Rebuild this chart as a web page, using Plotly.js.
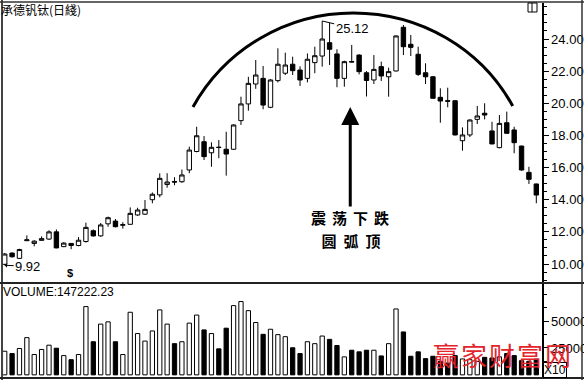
<!DOCTYPE html>
<html>
<head>
<meta charset="utf-8">
<script src="https://cdn.plot.ly/plotly-3.0.1.min.js"></script>
<style>
  html, body { margin: 0; padding: 0; background: #fff; }
  #chart { width: 584px; height: 380px; }
  g.annotation[data-index="4"] text { letter-spacing: 6px; }
  g.annotation[data-index="5"] text { letter-spacing: 7px; }
  g.annotation[data-index="8"] text { letter-spacing: 2px; }
</style>
</head>
<body>
<div id="chart"></div>
<script>
// Daily bars, 承德钒钛
const openP = [9.98,10.68,10.35,11.45,11.28,11.47,11.55,12.00,11.08,11.28,
  11.15,11.40,12.07,11.75,12.50,12.67,12.41,12.47,13.05,13.10,
  14.00,14.30,14.95,15.13,15.12,15.85,17.00,17.61,16.92,17.27,
  17.14,17.14,18.92,19.96,21.20,21.55,19.75,21.41,21.87,22.43,
  22.07,21.55,22.53,22.94,23.77,23.07,21.55,22.60,23.00,21.90,
  21.45,22.28,21.65,22.01,24.73,23.67,23.05,21.90,21.65,20.37,
  20.16,20.16,17.67,18.03,19.00,19.38,18.28,17.24,18.79,18.34,
  17.34,15.70,14.98];
const highP = [10.68,10.72,10.95,11.78,11.48,11.72,12.10,12.15,11.36,11.30,
  11.68,12.57,12.15,12.55,12.95,12.80,12.60,13.52,13.50,13.98,
  14.45,15.64,15.65,15.40,15.88,17.30,18.54,17.96,17.57,17.71,
  18.23,18.70,20.41,21.65,22.69,22.32,21.50,23.42,23.15,22.90,
  22.30,23.10,23.52,25.12,25.00,23.36,22.65,23.63,23.05,22.00,
  23.00,22.59,22.22,24.22,24.87,24.25,23.52,22.49,21.70,20.93,
  20.97,20.18,18.50,19.00,19.83,20.00,18.85,19.27,19.48,18.54,
  17.36,16.05,15.00];
const lowP = [9.92,10.40,10.33,11.44,11.10,11.46,11.50,10.98,11.05,10.92,
  11.10,11.33,11.70,11.70,12.32,12.28,12.20,12.45,13.00,13.05,
  13.78,14.15,14.75,14.90,15.05,15.65,16.95,16.47,16.05,16.58,
  15.50,17.10,18.65,19.54,20.90,19.63,19.70,21.30,21.76,21.76,
  21.08,21.30,21.87,22.28,22.38,21.00,21.03,22.55,21.80,20.42,
  21.20,21.39,20.41,21.98,23.00,22.94,21.70,21.20,20.28,18.79,
  19.75,18.00,17.05,17.90,18.71,19.00,17.45,17.20,18.10,16.89,
  15.80,14.98,13.78];
const closeP = [10.62,10.45,10.90,11.50,11.42,11.58,12.00,11.00,11.30,11.15,
  11.48,12.28,11.75,12.43,12.88,12.32,12.45,13.15,13.36,13.40,
  14.34,15.33,15.10,15.10,15.54,17.09,17.98,16.68,17.26,17.25,
  16.84,18.65,19.96,21.24,21.76,19.89,21.45,22.43,22.38,22.03,
  21.45,22.74,22.96,24.00,23.36,21.55,22.59,22.57,21.97,21.42,
  22.11,21.70,21.97,24.19,23.52,23.48,21.80,21.65,20.31,20.14,
  20.13,18.03,18.03,18.96,19.21,19.27,17.47,18.75,18.13,17.55,
  15.85,15.27,14.29];
// volume in units of 10 shares
const volume = [21970,19800,24500,34600,18900,23600,27600,24800,17900,14100,
  18900,63500,30800,47200,49300,30800,18900,58200,38400,31400,
  40800,60400,47200,29000,30800,48100,55600,41800,38400,24200,
  43400,64400,68200,59700,48700,37700,42400,37400,35500,25200,
  19800,30800,29000,36100,33000,27300,16700,22900,21400,22900,
  22900,17600,29000,61300,39900,17300,21400,15100,17300,12600,
  11000,17900,14800,14100,12600,16300,15700,16700,19800,17900,
  13200,12600,14722.223];

const priceTicks = [10, 12, 14, 16, 18, 20, 22, 24];
const volumeTicks = [25000, 50000];
const volumeScale = 10;

const day = closeP.map((_, i) => i);
const volFill = closeP.map((c, i) => (c >= openP[i] ? '#ffffff' : '#000000'));

// extremes shown on the chart
const hiIdx = highP.indexOf(Math.max(...highP));
const loIdx = lowP.indexOf(Math.min(...lowP));
const lastVol = volume[volume.length - 1];

// page geometry helpers (plot area spans x 3..542, y 3..377)
const W = 584, H = 380, ML = 3, MR = 42, MT = 3, MB = 3;
const PW = W - ML - MR, PH = H - MT - MB;
const px = v => (v - ML) / PW;
const py = v => (H - MB - v) / PH;

// hand-drawn rounding-top arc (day, price), two cubic segments
const arcPts = [[25.5, 19.77], [29.9, 23.38], [38.2, 25.62], [47.2, 25.62],
                [56.2, 25.62], [64.5, 23.44], [68.8, 19.83]];
const arcPath = 'M' + arcPts[0].join(',') +
  ' C' + arcPts[1].join(',') + ' ' + arcPts[2].join(',') + ' ' + arcPts[3].join(',') +
  ' C' + arcPts[4].join(',') + ' ' + arcPts[5].join(',') + ' ' + arcPts[6].join(',');

const latin = 'Liberation Sans, Arial, sans-serif';
const cjk = 'Noto Sans CJK SC, sans-serif';

const traces = [
  {
    type: 'candlestick', x: day, open: openP, high: highP, low: lowP, close: closeP,
    xaxis: 'x', yaxis: 'y', whiskerwidth: 0, hoverinfo: 'skip',
    increasing: { line: { color: '#000', width: 1 }, fillcolor: '#ffffff' },
    decreasing: { line: { color: '#000', width: 1 }, fillcolor: '#000000' }
  },
  {
    type: 'bar', x: day, y: volume, xaxis: 'x2', yaxis: 'y2', width: 0.58,
    marker: { color: volFill, line: { color: '#000', width: 1 } }, hoverinfo: 'skip'
  }
];

const axisX = { range: [-0.23, 72.77], showgrid: false, zeroline: false, showline: false,
  showticklabels: false, ticks: '', fixedrange: true, rangeslider: { visible: false } };

const layout = {
  width: W, height: H, margin: { l: ML, r: MR, t: MT, b: MB },
  paper_bgcolor: '#fff', plot_bgcolor: '#fff', showlegend: false,
  boxgap: 0.15,
  xaxis: Object.assign({ anchor: 'y', domain: [0, 1] }, axisX),
  xaxis2: Object.assign({ anchor: 'y2', domain: [0, 1] }, axisX),
  yaxis: {
    domain: [py(282), 1], range: [8.88, 26.24], side: 'right', anchor: 'x',
    showline: true, linecolor: '#000', linewidth: 1.5, showgrid: false, zeroline: false,
    tickmode: 'array', tickvals: priceTicks, ticktext: priceTicks.map(v => v.toFixed(2)),
    ticks: 'outside', ticklen: 5, tickwidth: 1, tickcolor: '#000',
    minor: { tickmode: 'linear', tick0: 0, dtick: 0.5, ticks: 'outside', ticklen: 3, tickcolor: '#000' },
    tickfont: { family: latin, size: 13, color: '#000' }
  },
  yaxis2: {
    domain: [0, py(284)], range: [-2000, 84500], side: 'right', anchor: 'x2',
    showline: true, linecolor: '#000', linewidth: 1.5, showgrid: false, zeroline: false,
    tickmode: 'array', tickvals: volumeTicks, ticktext: volumeTicks.map(String),
    ticks: 'outside', ticklen: 5, tickwidth: 1, tickcolor: '#000',
    minor: { tickmode: 'linear', tick0: 0, dtick: 12500, ticks: 'outside', ticklen: 3, tickcolor: '#000' },
    tickfont: { family: latin, size: 13, color: '#000' }
  },
  shapes: [
    { type: 'path', xref: 'x', yref: 'y', path: arcPath, line: { color: '#000', width: 3 } },
    // frame
    { type: 'line', xref: 'paper', yref: 'paper', x0: px(2), x1: px(2), y0: py(0), y1: py(380), line: { color: '#444', width: 2 } },
    { type: 'line', xref: 'paper', yref: 'paper', x0: px(0), x1: px(584), y0: py(2), y1: py(2), line: { color: '#333', width: 1.5 } },
    { type: 'line', xref: 'paper', yref: 'paper', x0: px(0), x1: px(584), y0: py(283), y1: py(283), line: { color: '#222', width: 2 } },
    { type: 'line', xref: 'paper', yref: 'paper', x0: px(0), x1: px(584), y0: py(378), y1: py(378), line: { color: '#222', width: 2 } },
    { type: 'line', xref: 'paper', yref: 'paper', x0: px(582), x1: px(582), y0: py(0), y1: py(380), line: { color: '#333', width: 1.5 } },
    // window toggle icon
    { type: 'rect', xref: 'paper', yref: 'paper', x0: px(528), x1: px(537), y0: py(12), y1: py(3), line: { color: '#000', width: 1 } },
    { type: 'line', xref: 'paper', yref: 'paper', x0: px(532), x1: px(532), y0: py(12), y1: py(3), line: { color: '#000', width: 1 } }
  ],
  annotations: [
    // 0: title
    { xref: 'paper', yref: 'paper', x: px(-1), y: py(10), xanchor: 'left', yanchor: 'middle',
      text: '承德钒钛(日綫)', showarrow: false, font: { family: cjk, size: 12, color: '#000' } },
    // 1: highest high
    { xref: 'x', yref: 'y', x: hiIdx, y: highP[hiIdx], text: highP[hiIdx].toFixed(2),
      showarrow: true, arrowhead: 0, arrowwidth: 1, arrowcolor: '#000', ax: 30, ay: 7,
      font: { family: latin, size: 13, color: '#000' } },
    // 2: lowest low
    { xref: 'x', yref: 'y', x: loIdx, y: lowP[loIdx], text: lowP[loIdx].toFixed(2),
      showarrow: true, arrowhead: 1, arrowsize: 0.8, arrowwidth: 1, arrowcolor: '#000', ax: 23, ay: 1,
      font: { family: latin, size: 13, color: '#000' } },
    // 3: arrow under the arc
    { xref: 'x', yref: 'y', x: 46.8, y: 19.77, text: '', showarrow: true,
      arrowhead: 2, arrowsize: 1.2, arrowwidth: 3, arrowcolor: '#000', ax: 0, ay: 101 },
    // 4, 5: caption
    { xref: 'x', yref: 'paper', x: 46.8, y: py(217), text: '震荡下跌', showarrow: false,
      xshift: 3, font: { family: cjk, size: 15, color: '#000', weight: 'bold' } },
    { xref: 'x', yref: 'paper', x: 46.8, y: py(240), text: '圆弧顶', showarrow: false,
      xshift: 4, font: { family: cjk, size: 15, color: '#000', weight: 'bold' } },
    // 6: volume readout
    { xref: 'paper', yref: 'paper', x: px(1), y: py(292), xanchor: 'left', yanchor: 'middle',
      text: 'VOLUME:' + (lastVol * volumeScale).toFixed(2), showarrow: false,
      font: { family: latin, size: 12, color: '#000' } },
    // 7: unit box
    { xref: 'paper', yref: 'paper', x: px(555), y: py(370), xanchor: 'center', yanchor: 'middle',
      text: 'X' + volumeScale, showarrow: false, bordercolor: '#000', borderwidth: 1, borderpad: 0,
      bgcolor: '#fff', font: { family: latin, size: 12, color: '#000' } },
    // 8: site mark
    { xref: 'paper', yref: 'paper', x: px(503), y: py(354), xanchor: 'center', yanchor: 'middle',
      text: '赢家财富网', showarrow: false, font: { family: cjk, size: 26, color: '#e3242b' } },
    // 9: ex-rights marker
    { xref: 'x', yref: 'y', x: 8.84, y: 9.44, text: '<b>$</b>', showarrow: false,
      font: { family: latin, size: 11, color: '#000' } }
  ]
};

Plotly.newPlot('chart', traces, layout, { staticPlot: true, displayModeBar: false });
</script>
</body>
</html>
